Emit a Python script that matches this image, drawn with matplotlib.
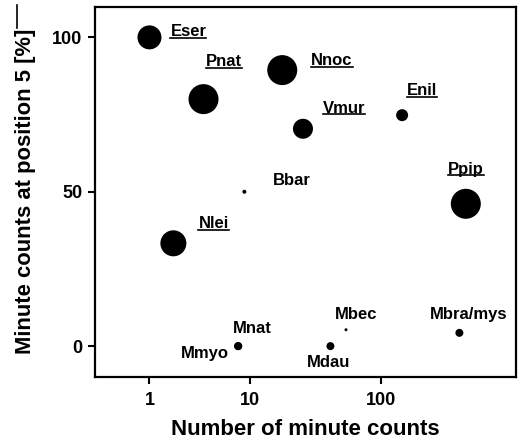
import numpy as np
import matplotlib
matplotlib.use("Agg")
import matplotlib.pyplot as plt
from matplotlib.lines import Line2D

plt.rcParams['font.family'] = ['Liberation Sans', 'DejaVu Sans']
plt.rcParams['font.weight'] = 'bold'

# species, number of minute counts, % at position 5, bubble diameter (px)
species = ['Eser', 'Pnat', 'Nnoc', 'Vmur', 'Enil', 'Ppip', 'Bbar', 'Nlei',
           'Mnat', 'Mmyo', 'Mdau', 'Mbec', 'Mbra/mys']
counts = [1, 4, 18, 26, 144, 426, 9, 2, 8, 8, 42, 55, 382]
pct5 = [100, 80, 89.4, 70.4, 74.8, 46.1, 50, 33.3, 0, 0, 0, 5.3, 4.3]
diam = [24, 30, 30, 20, 12, 30, 4, 26, 8, 8, 8, 3, 8]
underlined = ['Eser', 'Pnat', 'Nnoc', 'Vmur', 'Enil', 'Ppip', 'Nlei']

# label offsets from the point in pixels (dx, dy) and alignment
label_pos = {
    'Eser': (21, 1, 'left'), 'Pnat': (2, 33, 'left'), 'Nnoc': (29, 5, 'left'),
    'Vmur': (20, 16, 'left'), 'Enil': (5, 20, 'left'), 'Ppip': (0, 30, 'center'),
    'Bbar': (28, 7, 'left'), 'Nlei': (25, 15, 'left'),
    'Mnat': (14, 13, 'center'), 'Mmyo': (-9, -12, 'right'),
    'Mdau': (-2, -21, 'center'), 'Mbec': (10, 11, 'center'),
    'Mbra/mys': (9, 14, 'center'),
}

fig = plt.figure(figsize=(5.18, 4.41), dpi=100)
ax = fig.add_axes([95 / 518, 1 - 377 / 441, (516 - 95) / 518, (377 - 6.5) / 441])

ax.set_xscale('function', functions=(lambda x: np.log10(np.clip(x + 1, 1e-6, None)),
                                     lambda y: 10 ** y - 1))
px2pt = 72 / 100
ax.scatter(counts, pct5, s=[(d * px2pt) ** 2 for d in diam], c='black',
           edgecolors='none', zorder=3)

ax.set_xlim(10 ** -0.1 - 1, 10 ** 3 - 1)
ax.set_ylim(-10, 110)
ax.set_xticks([1, 10, 100])
ax.set_xticklabels(['1', '10', '100'])
ax.xaxis.set_minor_locator(plt.NullLocator())
ax.set_yticks([0, 50, 100])
ax.tick_params(axis='both', labelsize=13, width=1.5, length=5, direction='out', pad=4)
ax.tick_params(axis='x', pad=6)
for lab in ax.get_xticklabels() + ax.get_yticklabels():
    lab.set_fontweight('bold')
for sp in ax.spines.values():
    sp.set_linewidth(1.6)

ax.set_xlabel('Number of minute counts', fontsize=16, fontweight='bold', labelpad=7)
ax.set_ylabel('Minute counts at position 5 [%]', fontsize=15.8, fontweight='bold', labelpad=12)

texts = []
for name, x, y in zip(species, counts, pct5):
    dx, dy, ha = label_pos[name]
    t = ax.annotate(name, (x, y), xytext=(dx * px2pt, dy * px2pt),
                    textcoords='offset points', ha=ha, va='baseline',
                    fontsize=12, fontweight='bold')
    if name in underlined:
        texts.append(t)

fig.canvas.draw()
r = fig.canvas.get_renderer()
for t in texts:
    bb = t.get_window_extent(r)
    yb = bb.y0 + 1.5
    fig.add_artist(Line2D([bb.x0 / 518, bb.x1 / 518], [yb / 441, yb / 441],
                          color='black', lw=1.2, transform=fig.transFigure))

# stray vertical rule at the top-left of the original figure
fig.add_artist(Line2D([17 / 518, 17 / 518], [1 - 5 / 441, 1 - 28 / 441],
                      color='black', lw=1.2, transform=fig.transFigure))

fig.savefig('out.png', dpi=100)
